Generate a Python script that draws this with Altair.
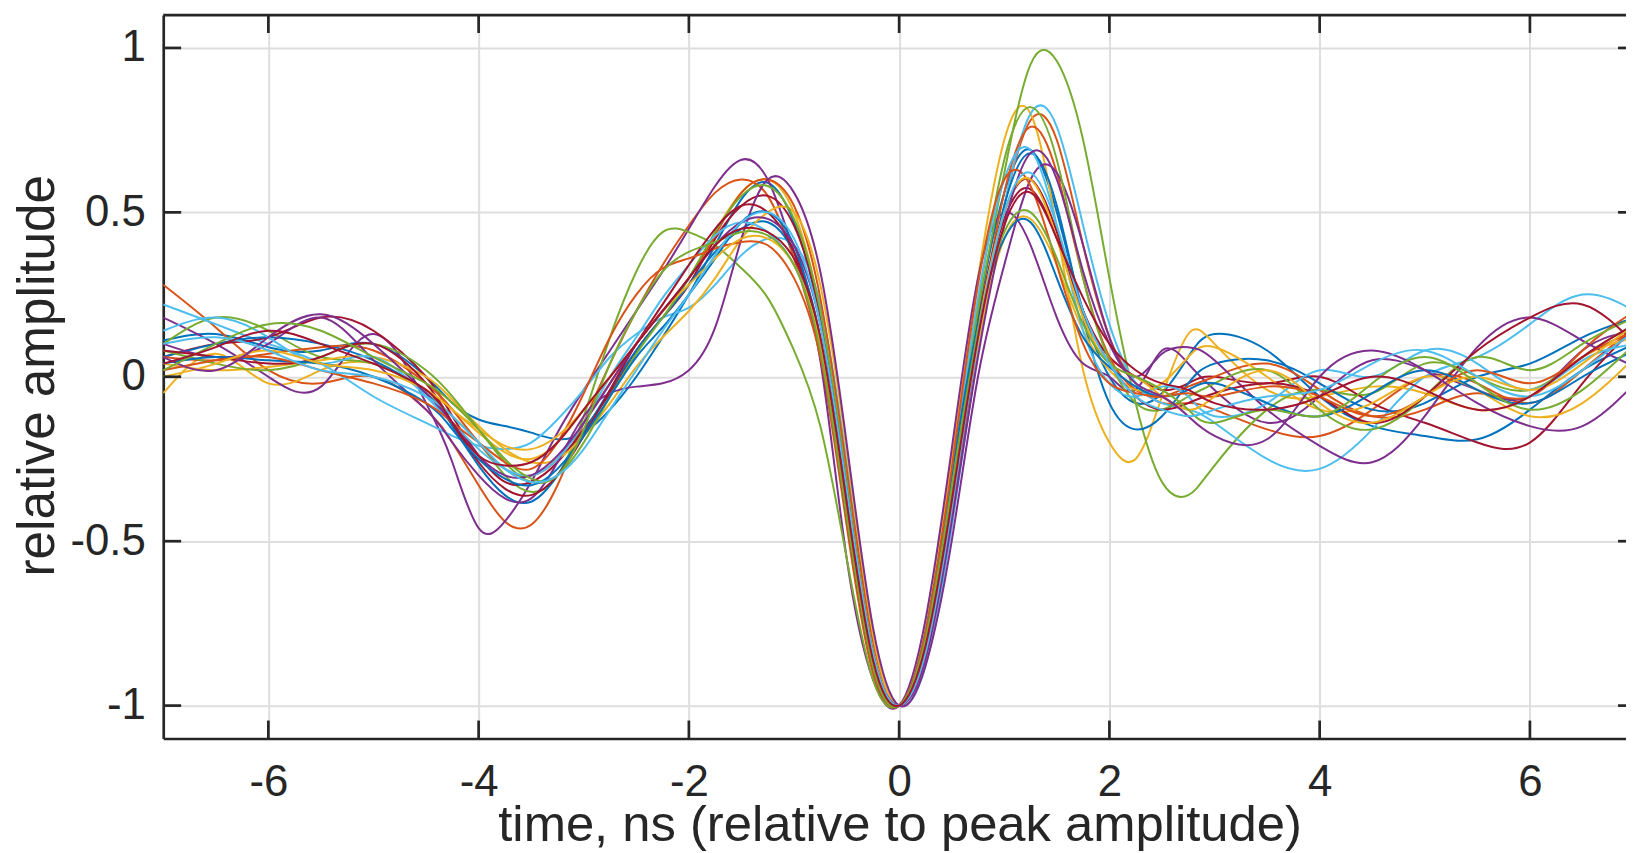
import altair as alt
import pandas as pd

# time grid (ns)
T = [-7, -6.5, -6, -5.5, -5, -4.5,
     -4.25, -4, -3.75, -3.5, -3.25, -3, -2.75, -2.5, -2.25, -2,
     -1.75, -1.5, -1.25, -1, -0.75, -0.5, -0.25, 0, 0.25, 0.5, 0.75, 1, 1.25, 1.5, 1.75,
     2, 2.25, 2.5, 2.75, 3, 3.5, 4, 4.5, 5, 5.5, 6, 6.5, 7]

b1 = [0.11, 0.13, 0.09, 0.08, 0.1, 0.0,
      -0.08, -0.13, -0.15, -0.17, -0.19, -0.17, -0.1, 0.0, 0.12, 0.25,
      0.4, 0.54, 0.59, 0.47, 0.17, -0.36, -0.85, -1.0, -0.8, -0.36, 0.18, 0.56, 0.69, 0.5, 0.2,
      0.0, -0.08, -0.05, 0.06, 0.13, 0.08, -0.06, -0.15, -0.18, -0.19, -0.1, 0.02, 0.1]
o1 = [0.28, 0.15, 0.02, -0.02, 0.0, -0.1,
      -0.2, -0.33, -0.44, -0.45, -0.33, -0.14, 0.04, 0.2, 0.34, 0.46,
      0.56, 0.6, 0.55, 0.36, 0.06, -0.45, -0.9, -1.0, -0.84, -0.42, 0.1, 0.52, 0.78, 0.72, 0.4,
      0.12, -0.02, -0.08, -0.08, -0.1, -0.16, -0.18, -0.1, 0.0, -0.02, -0.08, 0.02, 0.15]
y1 = [-0.05, 0.07, -0.02, 0.02, 0.04, -0.04,
      -0.1, -0.17, -0.23, -0.25, -0.2, -0.1, 0.0, 0.1, 0.2, 0.3,
      0.44, 0.56, 0.6, 0.5, 0.2, -0.3, -0.82, -1.0, -0.76, -0.25, 0.3, 0.72, 0.8, 0.45, 0.02,
      -0.2, -0.25, -0.06, 0.13, 0.1, -0.04, -0.06, -0.03, -0.05, -0.1, -0.06, 0.06, 0.12]
p1 = [0.18, 0.1, 0.0, -0.03, 0.13, -0.08,
      -0.26, -0.46, -0.44, -0.32, -0.17, -0.04, 0.08, 0.2, 0.32, 0.45,
      0.58, 0.66, 0.6, 0.38, 0.05, -0.55, -0.92, -1.0, -0.74, -0.22, 0.3, 0.5, 0.4, 0.18, 0.04,
      0.0, -0.04, 0.08, 0.04, -0.04, -0.14, -0.06, 0.05, 0.02, -0.04, -0.06, 0.08, 0.14]
g1 = [0.1, 0.18, 0.14, 0.06, 0.04, -0.05,
      -0.12, -0.2, -0.3, -0.35, -0.3, -0.12, 0.12, 0.32, 0.44, 0.44,
      0.4, 0.33, 0.24, 0.08, -0.15, -0.55, -0.92, -1.0, -0.8, -0.3, 0.2, 0.62, 0.95, 0.96, 0.72,
      0.3, -0.08, -0.32, -0.36, -0.27, -0.1, -0.04, -0.05, 0.04, 0.0, -0.04, 0.06, 0.16]
c1 = [0.22, 0.16, 0.1, 0.04, -0.06, -0.14,
      -0.18, -0.21, -0.22, -0.2, -0.13, -0.04, 0.06, 0.13, 0.18, 0.21,
      0.28, 0.37, 0.42, 0.4, 0.22, -0.26, -0.8, -1.0, -0.88, -0.46, 0.08, 0.52, 0.8, 0.76, 0.46,
      0.16, -0.02, -0.08, -0.1, -0.14, -0.25, -0.28, -0.16, 0.0, 0.06, 0.16, 0.25, 0.2]
r1 = [0.06, 0.1, 0.12, 0.18, 0.14, 0.0,
      -0.12, -0.24, -0.32, -0.32, -0.26, -0.16, -0.05, 0.08, 0.18, 0.28,
      0.42, 0.52, 0.55, 0.46, 0.18, -0.34, -0.84, -1.0, -0.8, -0.36, 0.14, 0.48, 0.57, 0.42, 0.2,
      0.06, 0.0, -0.04, -0.02, 0.0, -0.02, 0.0, -0.08, -0.14, -0.2, -0.2, -0.02, 0.15]
b2 = [0.06, 0.1, 0.12, 0.1, 0.05, -0.05,
      -0.15, -0.27, -0.36, -0.38, -0.3, -0.17, -0.04, 0.08, 0.18, 0.28,
      0.38, 0.45, 0.47, 0.38, 0.12, -0.4, -0.86, -1.0, -0.83, -0.4, 0.12, 0.52, 0.68, 0.52, 0.18,
      -0.08, -0.16, -0.12, -0.02, 0.04, 0.05, -0.02, -0.1, -0.08, 0.0, 0.04, 0.12, 0.18]
o2 = [0.06, 0.05, 0.07, 0.09, 0.08, -0.02,
      -0.1, -0.2, -0.28, -0.3, -0.25, -0.14, -0.02, 0.1, 0.2, 0.3,
      0.43, 0.56, 0.6, 0.52, 0.24, -0.28, -0.8, -1.0, -0.84, -0.4, 0.12, 0.56, 0.76, 0.62, 0.3,
      0.06, -0.04, -0.06, -0.03, 0.0, 0.04, -0.04, -0.12, -0.1, -0.05, -0.06, 0.08, 0.2]
y2 = [0.04, 0.02, 0.03, 0.05, 0.06, 0.0,
      -0.07, -0.15, -0.22, -0.26, -0.25, -0.18, -0.08, 0.03, 0.12, 0.2,
      0.3, 0.42, 0.5, 0.5, 0.28, -0.22, -0.78, -1.0, -0.8, -0.36, 0.1, 0.42, 0.48, 0.34, 0.14,
      0.02, -0.04, -0.02, 0.06, 0.09, 0.0, -0.1, -0.08, 0.0, -0.04, -0.12, -0.08, 0.06]
p2 = [0.1, 0.06, 0.1, 0.18, 0.05, -0.1,
      -0.2, -0.3, -0.37, -0.37, -0.26, -0.12, -0.05, -0.03, -0.02, 0.02,
      0.15, 0.42, 0.6, 0.56, 0.32, -0.2, -0.76, -1.0, -0.88, -0.5, 0.0, 0.34, 0.6, 0.62, 0.4,
      0.12, 0.0, 0.07, 0.09, 0.05, -0.1, -0.21, -0.26, -0.12, 0.09, 0.18, 0.11, 0.03]
g2 = [0.08, 0.04, 0.02, 0.06, 0.1, 0.02,
      -0.06, -0.16, -0.26, -0.32, -0.3, -0.2, -0.06, 0.07, 0.18, 0.3,
      0.44, 0.55, 0.58, 0.48, 0.2, -0.32, -0.84, -1.0, -0.8, -0.32, 0.22, 0.66, 0.82, 0.66, 0.3,
      0.05, -0.08, -0.1, -0.06, -0.02, 0.02, -0.1, -0.16, -0.06, 0.06, 0.02, 0.1, 0.18]
c2 = [0.14, 0.18, 0.12, 0.04, 0.06, -0.06,
      -0.14, -0.22, -0.28, -0.3, -0.25, -0.14, 0.0, 0.12, 0.24, 0.34,
      0.43, 0.47, 0.44, 0.34, 0.1, -0.4, -0.86, -1.0, -0.78, -0.3, 0.24, 0.6, 0.69, 0.46, 0.14,
      -0.02, -0.06, -0.03, -0.06, -0.12, -0.08, 0.02, 0.0, 0.08, 0.04, -0.04, 0.05, 0.1]
r2 = [0.08, 0.06, 0.04, 0.06, 0.1, -0.02,
      -0.14, -0.26, -0.34, -0.36, -0.3, -0.18, -0.04, 0.1, 0.22, 0.34,
      0.45, 0.52, 0.5, 0.38, 0.1, -0.42, -0.88, -1.0, -0.8, -0.36, 0.16, 0.5, 0.6, 0.44, 0.2,
      0.04, -0.06, -0.1, -0.08, -0.05, -0.02, -0.06, -0.14, -0.06, 0.08, 0.18, 0.22, 0.1]
b3 = [0.04, 0.06, 0.05, 0.04, 0.0, -0.08,
      -0.16, -0.25, -0.31, -0.33, -0.28, -0.18, -0.06, 0.06, 0.15, 0.25,
      0.36, 0.47, 0.5, 0.4, 0.1, -0.42, -0.86, -1.0, -0.78, -0.3, 0.16, 0.42, 0.47, 0.3, 0.12,
      0.03, -0.03, -0.06, -0.04, -0.02, -0.08, -0.12, -0.05, 0.02, -0.04, -0.08, 0.0, 0.08]
o3 = [0.02, 0.05, 0.06, 0.02, -0.02, -0.08,
      -0.14, -0.2, -0.26, -0.28, -0.2, -0.05, 0.12, 0.25, 0.33, 0.36,
      0.39, 0.41, 0.4, 0.3, 0.06, -0.42, -0.88, -1.0, -0.78, -0.28, 0.28, 0.6, 0.58, 0.34, 0.1,
      -0.02, -0.05, -0.06, -0.05, -0.06, -0.03, -0.06, -0.12, -0.06, 0.02, -0.02, 0.06, 0.14]
y3 = [0.0, 0.04, 0.08, 0.04, 0.02, -0.04,
      -0.1, -0.16, -0.21, -0.22, -0.18, -0.1, 0.0, 0.1, 0.2, 0.28,
      0.36, 0.42, 0.42, 0.34, 0.1, -0.38, -0.86, -1.0, -0.82, -0.38, 0.14, 0.5, 0.6, 0.42, 0.18,
      0.04, 0.0, -0.06, -0.1, -0.06, 0.02, -0.08, -0.14, -0.06, 0.0, -0.04, 0.04, 0.16]
p3 = [0.06, 0.02, 0.12, 0.19, 0.1, -0.05,
      -0.14, -0.24, -0.3, -0.3, -0.24, -0.14, -0.02, 0.1, 0.2, 0.3,
      0.4, 0.47, 0.48, 0.4, 0.16, -0.34, -0.84, -1.0, -0.86, -0.44, 0.06, 0.46, 0.68, 0.6, 0.32,
      0.1, -0.02, -0.06, -0.12, -0.18, -0.19, 0.0, 0.08, 0.02, -0.08, -0.15, -0.15, -0.02]
g3 = [0.02, 0.1, 0.16, 0.14, 0.06, -0.02,
      -0.08, -0.16, -0.25, -0.31, -0.3, -0.16, 0.04, 0.2, 0.32, 0.38,
      0.41, 0.44, 0.43, 0.34, 0.08, -0.42, -0.88, -1.0, -0.8, -0.34, 0.14, 0.44, 0.5, 0.36, 0.16,
      0.04, 0.0, -0.04, -0.1, -0.14, -0.1, -0.12, -0.02, 0.06, -0.02, -0.1, -0.04, 0.1]
c3 = [0.1, 0.12, 0.08, 0.02, 0.0, -0.06,
      -0.12, -0.2, -0.28, -0.32, -0.3, -0.22, -0.1, 0.02, 0.14, 0.25,
      0.37, 0.47, 0.5, 0.42, 0.16, -0.34, -0.84, -1.0, -0.84, -0.4, 0.12, 0.5, 0.62, 0.46, 0.2,
      0.04, -0.06, -0.1, -0.12, -0.1, -0.06, -0.04, 0.04, 0.08, 0.0, -0.06, 0.02, 0.14]
r3 = [0.04, 0.09, 0.14, 0.1, 0.04, -0.04,
      -0.14, -0.24, -0.27, -0.26, -0.2, -0.1, 0.0, 0.1, 0.2, 0.3,
      0.4, 0.45, 0.44, 0.36, 0.12, -0.38, -0.86, -1.0, -0.82, -0.38, 0.12, 0.46, 0.56, 0.42, 0.24,
      0.1, 0.02, -0.02, -0.04, -0.08, -0.1, -0.06, 0.0, -0.04, -0.1, -0.06, 0.06, 0.16]

SERIES = [b1, o1, y1, p1, g1, c1, r1,
          b2, o2, y2, p2, g2, c2, r2,
          b3, o3, y3, p3, g3, c3, r3]
PALETTE = ["#0072BD", "#D95319", "#EDB120", "#7E2F8E", "#77AC30", "#4DBEEE", "#A2142F"]

X_TICKS = [-6, -4, -2, 0, 2, 4, 6]
Y_TICKS = [-1, -0.5, 0, 0.5, 1]

names = [f"s{i + 1:02d}" for i in range(len(SERIES))]
colors = [PALETTE[i % 7] for i in range(len(SERIES))]

rows = []
for name, vals in zip(names, SERIES):
    assert len(vals) == len(T), (name, len(vals))
    for t, v in zip(T, vals):
        rows.append({"s": name, "t": t, "v": v})
df = pd.DataFrame(rows)

W, H = 1470, 727
FONT = "Liberation Sans"
INK = "#262626"

xscale = alt.Scale(domain=[-7, 6.914], nice=False, zero=False)
yscale = alt.Scale(domain=[-1.1, 1.1], nice=False, zero=False)

x_axis = alt.Axis(
    values=X_TICKS, labelExpr="'' + datum.value", ticks=False,
    grid=True, gridColor="#dedede", gridWidth=2,
    domainColor=INK, domainWidth=2.7,
    labelFont=FONT, labelFontSize=44, labelColor=INK,
    labelPadding=57, labelBaseline="alphabetic",
    title="time, ns (relative to peak amplitude)",
    titleFont=FONT, titleFontSize=51, titleFontWeight="normal", titleColor=INK,
    titleX=740, titleY=103, titleBaseline="alphabetic", titleAlign="center")
y_axis = alt.Axis(
    values=Y_TICKS, labelExpr="'' + datum.value", ticks=False,
    grid=True, gridColor="#dedede", gridWidth=2,
    domainColor=INK, domainWidth=2.7,
    labelFont=FONT, labelFontSize=44, labelColor=INK, labelPadding=18,
    title="relative amplitude",
    titleFont=FONT, titleFontSize=51.5, titleFontWeight="normal", titleColor=INK,
    titleX=-110, titleY=362, titleAngle=270, titleBaseline="alphabetic",
    titleAlign="center")

lines = alt.Chart(df).mark_line(interpolate="natural", strokeWidth=2, clip=True).encode(
    x=alt.X("t:Q", scale=xscale, axis=x_axis),
    y=alt.Y("v:Q", scale=yscale, axis=y_axis),
    color=alt.Color("s:N", scale=alt.Scale(domain=names, range=colors), legend=None),
)

xt = pd.DataFrame({"t": X_TICKS})
yt = pd.DataFrame({"v": Y_TICKS})
one = pd.DataFrame({"k": [0]})

tick_style = dict(color=INK, strokeWidth=2.7)
x_bottom = alt.Chart(xt).mark_rule(**tick_style).encode(
    x=alt.X("t:Q", scale=xscale, axis=x_axis), y=alt.value(H), y2=alt.value(H - 18))
x_top = alt.Chart(xt).mark_rule(**tick_style).encode(
    x=alt.X("t:Q", scale=xscale, axis=x_axis), y=alt.value(0), y2=alt.value(18))
y_left = alt.Chart(yt).mark_rule(**tick_style).encode(
    y=alt.Y("v:Q", scale=yscale, axis=y_axis), x=alt.value(0), x2=alt.value(18))
y_right = alt.Chart(yt).mark_rule(**tick_style).encode(
    y=alt.Y("v:Q", scale=yscale, axis=y_axis), x=alt.value(W - 8), x2=alt.value(W))
top_border = alt.Chart(one).mark_rule(**tick_style).encode(
    x=alt.value(0), x2=alt.value(W), y=alt.value(0))

chart = alt.layer(lines, x_bottom, x_top, y_left, y_right, top_border).properties(
    width=W, height=H,
    padding={"left": 156, "top": 5, "right": 0, "bottom": 113},
    autosize=alt.AutoSizeParams(type="none"),
).configure_view(strokeWidth=0)

chart.save("out.html", embed_options={"renderer": "svg", "actions": False})
